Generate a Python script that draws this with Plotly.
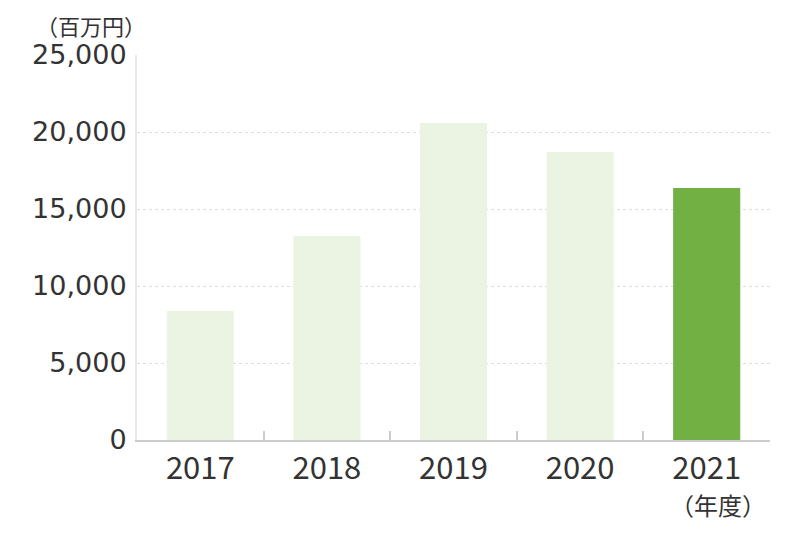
import plotly.graph_objects as go

years = ["2017", "2018", "2019", "2020", "2021"]
sales = [8380, 13250, 20580, 18700, 16360]
bar_colors = ["#ebf3e3", "#ebf3e3", "#ebf3e3", "#ebf3e3", "#72b043"]
y_ticks = [0, 5000, 10000, 15000, 20000, 25000]

FONT = "Noto Sans CJK JP"
NUMFONT = "DejaVu Sans"

# page has an 8px body margin; plot area targets page px x 137..770, y 55..440
OFF = 8
X0, X1, Y0, Y1 = 137, 770, 55, 440
W, H = 800 - OFF, 535 - OFF
L, R, T, B = X0 - OFF, 800 - X1, Y0 - OFF, 535 - Y1

fig = go.Figure()
fig.add_trace(go.Bar(
    x=years, y=sales,
    marker=dict(color=bar_colors, line=dict(width=0)),
    width=0.53,
    hoverinfo="skip",
))

fig.update_layout(
    width=W, height=H,
    margin=dict(l=L, r=R, t=T, b=B, pad=0),
    paper_bgcolor="white", plot_bgcolor="white",
    showlegend=False,
    font=dict(family=FONT, color="#333333"),
    xaxis=dict(
        type="category",
        showline=True, linecolor="#cccccc", linewidth=2,
        ticks="inside", tickson="boundaries", ticklen=9,
        tickcolor="#cccccc", tickwidth=2,
        showgrid=False,
        tickfont=dict(size=31, color="#333333", family=FONT),
        ticklabelstandoff=0,
    ),
    yaxis=dict(
        range=[0, 25000],
        tickvals=y_ticks,
        tickformat=",",
        showline=True, linecolor="#e8e8e8", linewidth=2,
        showgrid=True, gridcolor="#dddddd", griddash="dot", gridwidth=1,
        zeroline=False,
        ticks="",
        tickfont=dict(size=27, color="#333333", family=NUMFONT),
        ticklabelstandoff=3,
    ),
)

pw, ph = X1 - X0, Y1 - Y0
# top unit label: anchored to the top edge of the figure
fig.add_annotation(
    text="（百万円）", x=(91 - X0) / pw, y=(Y1 - OFF) / ph,
    xref="paper", yref="paper", xanchor="center", yanchor="top",
    showarrow=False, borderpad=0,
    font=dict(size=22, color="#333333", family=FONT),
)
fig.add_annotation(
    text="（年度）", x=(718 - X0) / pw, y=(Y1 - 504) / ph,
    xref="paper", yref="paper", xanchor="center", yanchor="middle",
    showarrow=False, font=dict(size=24, color="#333333", family=FONT),
)

fig.write_html("out.html")
